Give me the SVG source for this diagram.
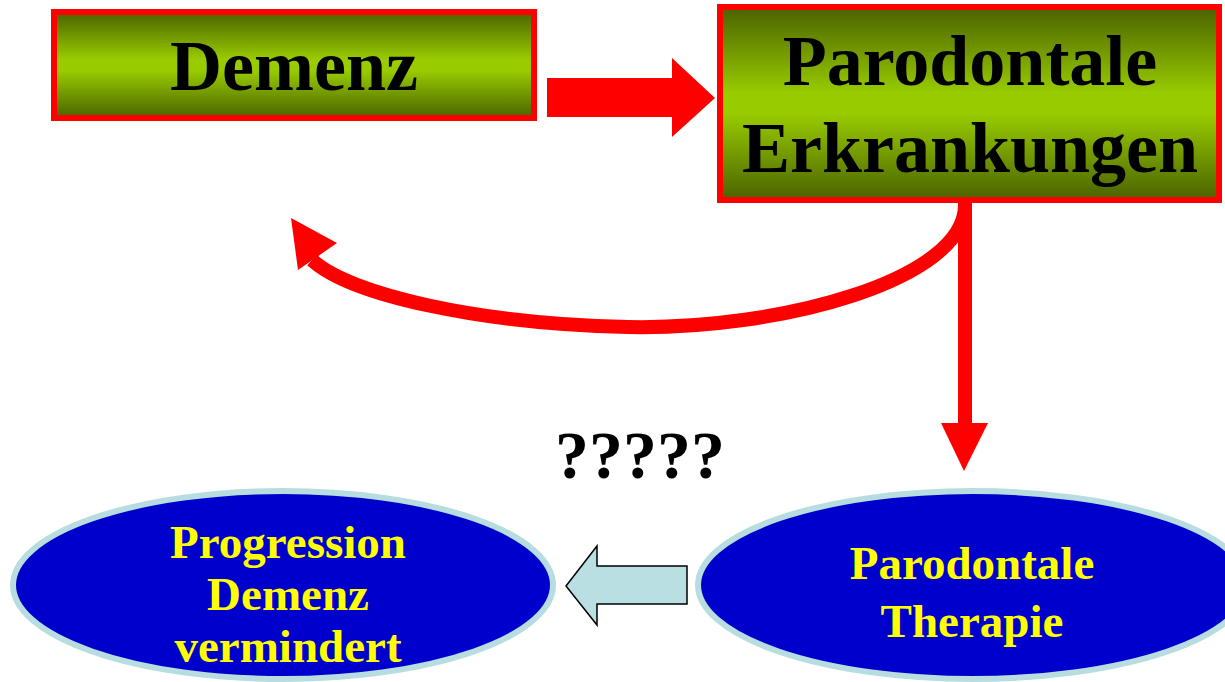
<svg xmlns="http://www.w3.org/2000/svg" width="1225" height="682" viewBox="0 0 1225 682">
<defs>
<linearGradient id="g" x1="0" y1="0" x2="0" y2="1">
<stop offset="0" stop-color="#4a6200"/>
<stop offset="0.45" stop-color="#99cc00"/>
<stop offset="0.55" stop-color="#99cc00"/>
<stop offset="1" stop-color="#4a6200"/>
</linearGradient>
<style>
.box{fill:url(#g);stroke:#ff0000;stroke-width:6}
.bt{font-family:"Liberation Serif","Times New Roman",serif;font-weight:bold;font-size:72px;fill:#000;text-anchor:middle}
.ell{fill:#0000cc;stroke:#b7dde1;stroke-width:6}
.et{font-family:"Liberation Serif","Times New Roman",serif;font-weight:bold;font-size:47px;fill:#ffff00;text-anchor:middle}
.red{fill:#ff0000}
</style>
</defs>
<rect width="1225" height="682" fill="#fff"/>
<g id="connectors">
<polygon class="red" points="547,78 672,78 672,58 715,98 672,137 672,117 547,117"/>
<path d="M965 198 L965 300 M965 205 C965 280 780 330 628 327 C480 324 350 295 312 260" fill="none" stroke="#ff0000" stroke-width="14"/>
<rect class="red" x="958" y="196" width="14" height="230"/>
<polygon class="red" points="291,218 337,243 298,270"/>
<polygon class="red" points="941,423 988,423 964,471"/>
<polygon points="687,566 597,566 597,546 566,586 597,625 597,604 687,604" fill="#b9dfe2" stroke="#000" stroke-width="1.5"/>
</g>
<g id="demenz">
<rect class="box" x="54" y="12" width="480" height="106"/>
<text class="bt" x="294" y="90">Demenz</text>
</g>
<g id="parodontale-erkrankungen">
<rect class="box" x="720" y="7" width="499" height="193"/>
<text class="bt" x="970" y="85">Parodontale</text>
<text class="bt" x="970" y="172">Erkrankungen</text>
</g>
<g id="fragezeichen">
<text x="640" y="478" style="font-family:'Liberation Serif','Times New Roman',serif;font-weight:bold;font-size:68px;fill:#000;text-anchor:middle">?????</text>
</g>
<g id="progression">
<ellipse class="ell" cx="283" cy="585" rx="270" ry="94"/>
<text class="et" x="288" y="558">Progression</text>
<text class="et" x="288" y="610">Demenz</text>
<text class="et" x="288" y="662">vermindert</text>
</g>
<g id="therapie">
<ellipse class="ell" cx="973" cy="585" rx="275" ry="94"/>
<text class="et" x="972" y="579">Parodontale</text>
<text class="et" x="972" y="637">Therapie</text>
</g>
</svg>
